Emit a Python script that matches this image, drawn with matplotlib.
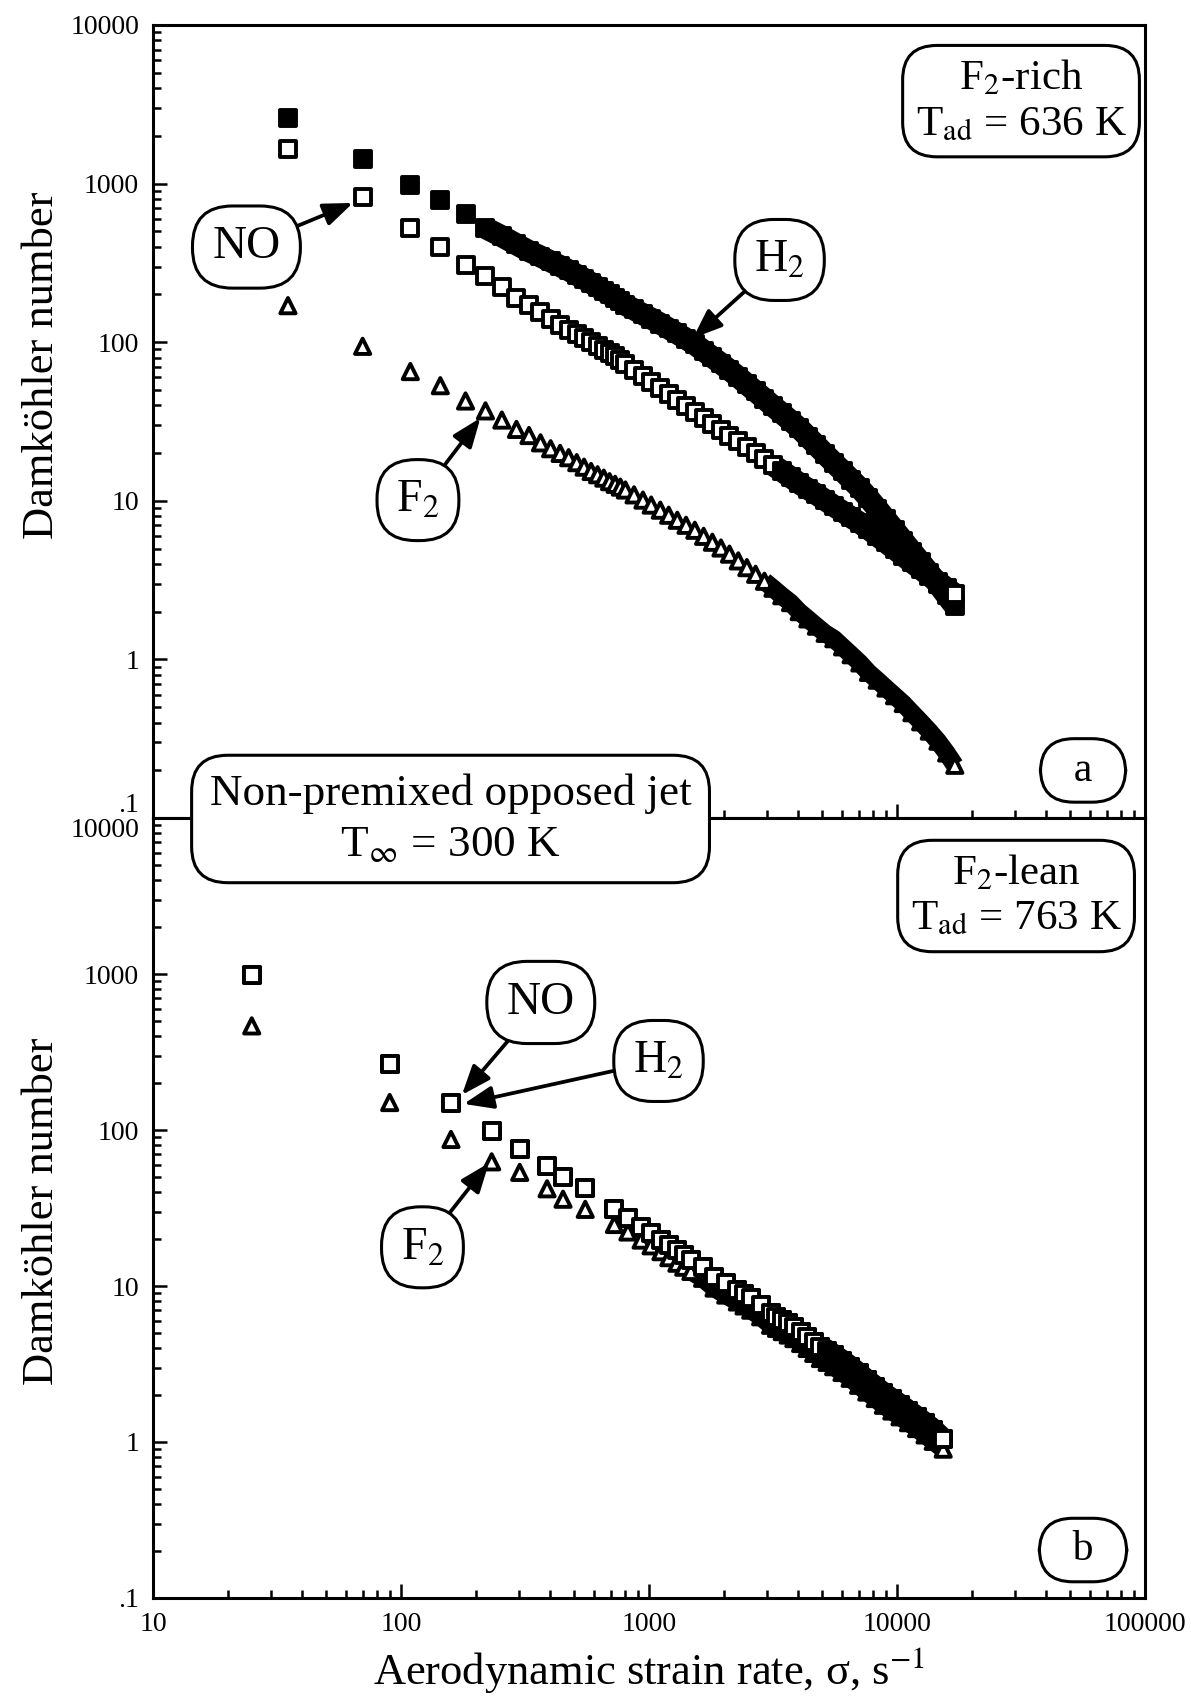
import numpy as np
import matplotlib
matplotlib.use("Agg")
from matplotlib import pyplot as plt
from matplotlib.ticker import FixedLocator, FixedFormatter, LogLocator, NullFormatter

plt.rcParams['font.family'] = ['Liberation Serif', 'DejaVu Serif']
plt.rcParams['mathtext.fontset'] = 'stix'

# (a) F2-rich, Tad = 636 K : aerodynamic strain rate (1/s) and Damkohler numbers
sigma_rich = [35, 70, 109, 144, 182, 219, 255, 292, 328, 365, 401, 438, 474, 511, 547, 584, 620, 657, 693, 730, 766, 803,
              870, 945, 1020, 1110, 1200, 1300, 1410, 1530, 1660, 1800, 1950, 2110, 2290, 2480, 2690, 2920,
              3160, 3430, 3720, 4030, 4370, 4730, 5130, 5560, 6030, 6530, 7080, 7670, 8320, 9020, 9770,
              10590, 11480, 12450, 13490, 14620, 15850, 17100]
h2_rich = [2580, 1420, 980, 790, 640, 525, 465, 414, 375, 347, 323, 302, 284, 266, 251, 236, 223, 210, 200, 190, 181, 172,
           161, 150, 141, 131, 122, 113.5, 105, 96.9, 88.3, 80.5, 73.4, 66.8, 60.4, 54.3, 48.9, 44.0,
           39.5, 35.6, 32.0, 28.7, 25.3, 22.4, 19.7, 17.4, 15.4, 13.6, 12.0, 10.4, 8.93, 7.64, 6.55,
           5.60, 4.79, 4.10, 3.51, 2.99, 2.53, 2.17]
no_rich = [1650, 820, 522, 400, 308, 263, 224, 190, 172, 156, 141, 128.5, 120, 112, 105.6, 100, 94.6, 89.5, 85.3, 81.5, 77.3, 73.3,
           67.0, 61.2, 56.0, 51.2, 46.9, 43.1, 39.5, 36.3, 33.3, 30.6, 28.1, 25.8, 23.7, 21.7, 20.0, 18.3,
           16.8, 15.4, 14.1, 12.9, 11.9, 11.0, 10.1, 9.29, 8.55, 7.87, 7.26, 6.64, 6.03, 5.47, 4.97,
           4.51, 4.09, 3.72, 3.37, 3.08, 2.81, 2.58]
f2_rich = [170, 94.2, 65.3, 53.2, 42.6, 36.9, 32.3, 28.2, 25.8, 23.2, 21.3, 19.9, 18.7, 17.4, 16.3, 15.3, 14.6, 13.9, 13.2, 12.7, 12.2, 11.7,
           10.9, 10.1, 9.40, 8.73, 8.11, 7.54, 7.01, 6.52, 5.97, 5.48, 5.04, 4.61, 4.18, 3.79, 3.44, 3.11,
           2.81, 2.52, 2.28, 2.00, 1.80, 1.62, 1.46, 1.35, 1.20, 1.07, 0.950, 0.828, 0.740, 0.660, 0.590,
           0.527, 0.461, 0.404, 0.353, 0.305, 0.257, 0.215]

# (b) F2-lean, Tad = 763 K
sigma_lean = [25, 90, 159, 232, 301, 388, 450, 553, 725, 822, 929, 1019, 1117, 1202, 1295, 1380, 1475, 1644, 1829, 2038,
              2270, 2415, 2570, 2818, 3090, 3265, 3443, 3640, 3837, 4085, 4340, 4613, 4909, 5224, 5550, 5998,
              6470, 6998, 7550, 8166, 8810, 9528, 10280, 11117, 11990, 12972, 13990, 15350]
no_lean = [990, 264, 150, 99, 76, 58.5, 50, 42.5, 31.0, 27.3, 24.0, 21.8, 19.7, 18.3, 17.0, 15.8, 14.7, 13.3, 11.5, 10.4,
           9.42, 8.87, 8.34, 7.55, 6.68, 6.36, 6.05, 5.77, 5.48, 5.09, 4.73, 4.40, 4.08, 3.85, 3.61, 3.32,
           3.04, 2.75, 2.49, 2.26, 2.05, 1.88, 1.73, 1.58, 1.45, 1.32, 1.20, 1.04]
# H2 falls on the NO squares in the lean case (both labels point to the same marker)
h2_lean = list(no_lean)
f2_lean = [465, 150, 87, 62.5, 53.5, 42, 36, 31, 24.8, 22.2, 19.7, 18.1, 16.6, 15.2, 14.0, 13.2, 12.4, 11.2, 9.7, 8.75,
           7.9, 7.45, 7.0, 6.35, 5.6, 5.35, 5.1, 4.85, 4.6, 4.28, 3.98, 3.70, 3.43, 3.24, 3.04, 2.79,
           2.56, 2.31, 2.09, 1.90, 1.72, 1.58, 1.45, 1.33, 1.22, 1.11, 1.01, 0.90]

y_ticks = [0.1, 1, 10, 100, 1000, 10000]
y_tick_labels = ['.1', '1', '10', '100', '1000', '10000']
x_ticks = [10, 100, 1000, 10000, 100000]
x_tick_labels = ['10', '100', '1000', '10000', '100000']

SQ = 11.5   # marker size (pt)
TRI = 11.0
EW = 2.8
BOX = dict(boxstyle='round,pad=0.3,rounding_size=0.8', fc='white', ec='black', lw=2.2)
TAG = dict(boxstyle='round,pad=0.42,rounding_size=0.85', fc='white', ec='black', lw=2.2)
ARROW = dict(arrowstyle='-|>,head_length=0.85,head_width=0.33', mutation_scale=21, lw=2.7,
             color='black', shrinkA=0, shrinkB=0)


def draw(ax, x, y, marker, size, open_marker, band_from=None, band_lw=16):
    # markers crowd together at high strain rate and merge into a solid band
    if band_from is not None:
        xs = [a for a in x if a >= band_from]
        ys = [b for a, b in zip(x, y) if a >= band_from]
        ax.plot(xs, ys, '-', color='black', lw=band_lw, solid_capstyle='butt',
                solid_joinstyle='round', zorder=2.5)
    if open_marker:
        fc = ['black' if (band_from is not None and a > band_from) else 'white' for a in x]
        fc[-1] = 'white'
    else:
        fc = ['black'] * len(x)
    ax.scatter(x, y, s=size ** 2, marker=marker, facecolors=fc, edgecolors='black',
               linewidths=EW, zorder=3, clip_on=False)


def style_axes(ax):
    ax.set_xscale('log')
    ax.set_yscale('log')
    ax.set_xlim(10, 100000)
    ax.set_ylim(0.1, 10000)
    ax.yaxis.set_major_locator(FixedLocator(y_ticks))
    ax.yaxis.set_major_formatter(FixedFormatter(y_tick_labels))
    ax.yaxis.set_minor_locator(LogLocator(base=10, subs=np.arange(2, 10)))
    ax.yaxis.set_minor_formatter(NullFormatter())
    ax.xaxis.set_major_locator(FixedLocator(x_ticks))
    ax.xaxis.set_major_formatter(FixedFormatter(x_tick_labels))
    ax.xaxis.set_minor_locator(LogLocator(base=10, subs=np.arange(2, 10)))
    ax.xaxis.set_minor_formatter(NullFormatter())
    ax.tick_params(which='both', direction='in', top=False, right=False, width=1.8, labelsize=20, pad=10)
    ax.tick_params(which='major', length=10)
    ax.tick_params(which='minor', length=6)
    for sp in ax.spines.values():
        sp.set_linewidth(2.2)
    ax.set_ylabel('Damköhler number', fontsize=32)


fig = plt.figure(figsize=(11.91, 16.97), dpi=100)
ax_a = fig.add_axes([0.1285, 0.51797, 0.8329, 0.4673])
ax_b = fig.add_axes([0.1285, 0.05834, 0.8329, 0.45963])

# ---- panel a
style_axes(ax_a)
ax_a.tick_params(labelbottom=False)
draw(ax_a, sigma_rich, h2_rich, 's', SQ, False, band_from=219)
draw(ax_a, sigma_rich, no_rich, 's', SQ, True, band_from=3160)
draw(ax_a, sigma_rich, f2_rich, '^', TRI, True, band_from=2920, band_lw=13)
ax_a.yaxis.set_label_coords(-0.092, 0.571)

ax_a.annotate('NO', xy=(64, 755), xytext=(23.8, 398), ha='center', va='center', fontsize=34,
              bbox=TAG, arrowprops=ARROW, zorder=5)
ax_a.annotate('H$_2$', xy=(1503, 106), xytext=(3360, 330), ha='center', va='center', fontsize=33,
              bbox=TAG, arrowprops=ARROW, zorder=5)
ax_a.annotate('F$_2$', xy=(209, 33.3), xytext=(117, 10.1), ha='center', va='center', fontsize=33,
              bbox=TAG, arrowprops=ARROW, zorder=5)
ax_a.text(0.875, 0.904, 'F$_2$-rich\nT$_{\\rm ad}$ = 636 K', transform=ax_a.transAxes, ha='center',
          va='center', multialignment='center', fontsize=31, linespacing=1.25, bbox=BOX, zorder=5)
ax_a.text(0.9375, 0.06, '  a  ', transform=ax_a.transAxes, ha='center', va='center', fontsize=30,
          bbox=BOX, zorder=5)

# ---- panel b
style_axes(ax_b)
draw(ax_b, sigma_lean, h2_lean, 's', SQ, False)
draw(ax_b, sigma_lean, f2_lean, '^', TRI, True, band_from=1475, band_lw=13)
draw(ax_b, sigma_lean, no_lean, 's', SQ, True, band_from=4909)
ax_b.yaxis.set_label_coords(-0.092, 0.496)
ax_b.set_xlabel('Aerodynamic strain rate, σ, s$^{-1}$', fontsize=32, labelpad=6)

ax_b.annotate('NO', xy=(176, 168), xytext=(366, 657), ha='center', va='center', fontsize=34,
              bbox=TAG, arrowprops=ARROW, zorder=5)
ax_b.annotate('H$_2$', xy=(179, 147), xytext=(1092, 277), ha='center', va='center', fontsize=33,
              bbox=TAG, arrowprops=ARROW, zorder=5)
ax_b.annotate('F$_2$', xy=(226, 61.4), xytext=(122, 17.7), ha='center', va='center', fontsize=33,
              bbox=TAG, arrowprops=ARROW, zorder=5)
ax_b.text(0.870, 0.900, 'F$_2$-lean\nT$_{\\rm ad}$ = 763 K', transform=ax_b.transAxes, ha='center',
          va='center', multialignment='center', fontsize=31, linespacing=1.25, bbox=BOX, zorder=5)
ax_b.text(0.9375, 0.0615, '  b  ', transform=ax_b.transAxes, ha='center', va='center', fontsize=30,
          bbox=BOX, zorder=5)

# '.1' of the upper frame sits just above the shared edge, '10000' of the lower one just below
ax_a.yaxis.get_major_ticks()[0].label1.set_va('bottom')
ax_b.yaxis.get_major_ticks()[-1].label1.set_va('top')

fig.text(0.3783, 0.5174, 'Non-premixed opposed jet\nT$_{\\infty}$ = 300 K', ha='center', va='center',
         multialignment='center', fontsize=32.5, linespacing=1.35,
         bbox=dict(boxstyle='round,pad=0.4,rounding_size=0.8', fc='white', ec='black', lw=2.2), zorder=10)

fig.savefig('out.png', dpi=100)
